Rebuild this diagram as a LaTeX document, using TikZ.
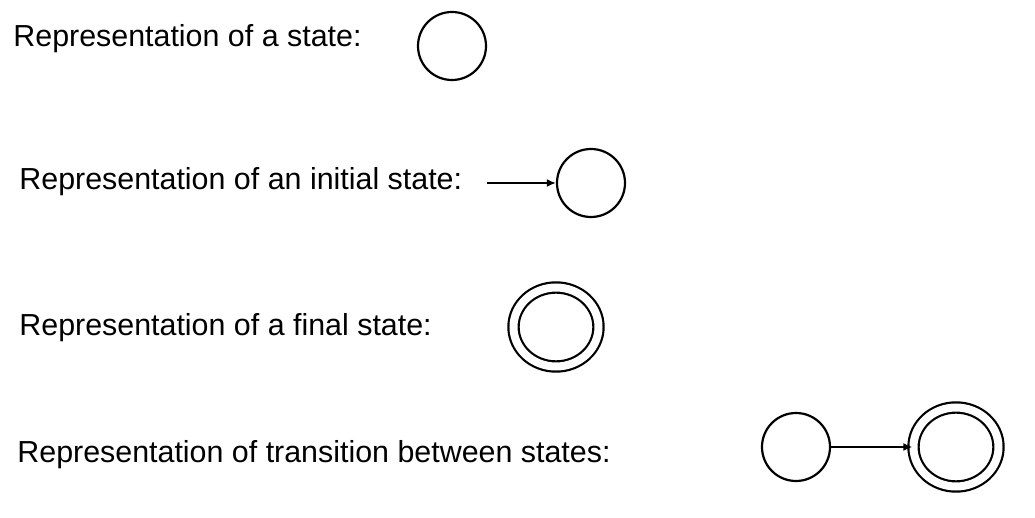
\documentclass[tikz,border=0pt]{standalone}
\usepackage{fontspec}
\setmainfont{Liberation Sans}
\usetikzlibrary{arrows.meta,shapes.geometric}

\begin{document}
\begin{tikzpicture}[x=0.5pt,y=-0.5pt]
    		\newcommand{\statesize}{34pt} % diameter of a plain state
    		\newcommand{\finwd}{42.5pt} % width of a final state
    		\newcommand{\finht}{39.5pt} % height of a final state
    		\newcommand{\thick}{1.1pt}

    		% set the styles of the states
    		\tikzset{
    			label/.style={
    				anchor=base west,
    				inner sep=0pt,
    				font=\fontsize{15.2}{18}\selectfont
    				},
    			state/.style={
    				circle,
    				draw,
    				line width=\thick,
    				minimum size=\statesize,
    				inner sep=0pt
    				},
    			final/.style={
    				ellipse,
    				draw,
    				double,
    				double distance=4pt,
    				line width=\thick,
    				minimum width=\finwd,
    				minimum height=\finht,
    				inner sep=0pt
    				},
    			trans/.style={
    				-{Latex[length=4.5pt,width=4pt]},
    				line width=\thick
    				}
    		}

    		\useasboundingbox (0,0) rectangle (1035,518);

    		% texts
			\node[label] (t1) at (13,47) {Representation of a state:};
			\node[label] (t2) at (19,190) {Representation of an initial state:};
			\node[label] (t3) at (19,336) {Representation of a final state:};
			\node[label] (t4) at (17,463) {Representation of transition between states:};

    		% states
			\node[state] (s) at (452,46) {};
			\node[state] (init) at (591,183) {};
			\node[final] (fin) at (556,327) {};
			\node[state] (p) at (796,447) {};
			\node[final] (q) at (956,447) {};

			% arrows
			\coordinate (start) at (487,183);
			\draw[trans] (start) -- (init);
			\draw[trans] (p) -- (q);

		\end{tikzpicture}
\end{document}
